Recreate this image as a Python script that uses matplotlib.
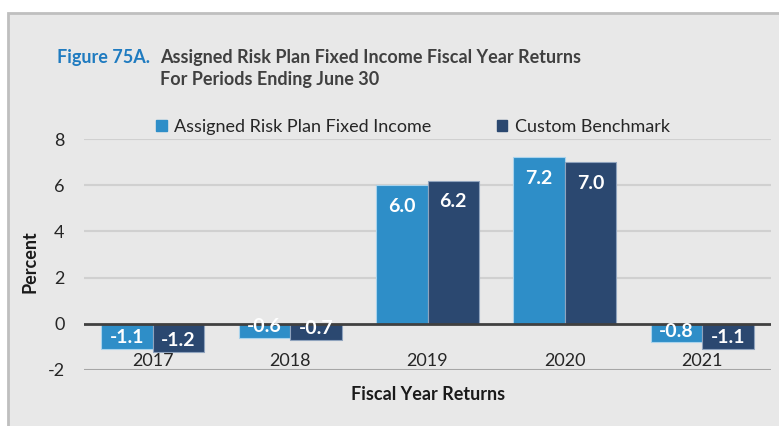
import matplotlib.pyplot as plt
import matplotlib.patches as mpatches
import numpy as np

years = ['2017', '2018', '2019', '2020', '2021']
fixed_income = [-1.1, -0.6, 6.0, 7.2, -0.8]
benchmark = [-1.2, -0.7, 6.2, 7.0, -1.1]
series_names = ['Assigned Risk Plan Fixed Income', 'Custom Benchmark']
y_ticks = [-2, 0, 2, 4, 6, 8]

light = '#2e8ec8'
dark = '#2b4870'
panel = '#e8e8e8'
plt.rcParams['font.family'] = ['Lato', 'DejaVu Sans']

W, H = 779, 426
fig = plt.figure(figsize=(W / 100, H / 100), dpi=100)
fig.patch.set_facecolor('white')

# gray panel with border
fig.patches.append(mpatches.Rectangle((8 / W, -0.1), 1.1, (H - 13) / H + 0.1,
                                      transform=fig.transFigure, facecolor=panel,
                                      edgecolor='#bfbfbf', linewidth=2, zorder=-10))

ax = fig.add_axes([84 / W, (H - 370) / H, (771 - 84) / W, (370 - 139) / H])
ax.set_facecolor('none')

x = np.arange(len(years))
w = 0.375
b1 = ax.bar(x - w / 2, fixed_income, w, color=light, edgecolor='#a9d3ec', linewidth=0.8, zorder=3)
b2 = ax.bar(x + w / 2, benchmark, w, color=dark, edgecolor='#8fa3bd', linewidth=0.8, zorder=3)

for bars, vals in ((b1, fixed_income), (b2, benchmark)):
    for bar, v in zip(bars, vals):
        cx = bar.get_x() + bar.get_width() / 2
        if v >= 0:
            ax.annotate(f'{v:.1f}', (cx, v), xytext=(0, -9), textcoords='offset points',
                        ha='center', va='top', color='white', fontsize=14, fontweight='bold', zorder=5)
        else:
            ax.annotate(f'{v:.1f}', (cx, v), xytext=(0, 2), textcoords='offset points',
                        ha='center', va='bottom', color='white', fontsize=14, fontweight='bold', zorder=5)

ax.set_xlim(-0.5, len(years) - 0.5)
ax.set_ylim(-2, 8)
ax.set_yticks(y_ticks)
ax.set_yticklabels([str(t) for t in y_ticks], fontsize=13, color='#262626')
ax.tick_params(axis='y', length=0, pad=14)
ax.set_xticks([])
for t in y_ticks:
    if t == 0:
        ax.axhline(0, color='#404040', linewidth=2, zorder=4)
    elif t == -2:
        ax.axhline(t, color='#a6a6a6', linewidth=1.5, zorder=1)
    else:
        ax.axhline(t, color='#d0d0d0', linewidth=1.5, zorder=1)
for s in ax.spines.values():
    s.set_visible(False)

for xi, yr in zip(x, years):
    ax.text(xi, -1.63, yr, ha='center', va='center', fontsize=13, color='#262626', zorder=6)

fig.text(30 / W, 1 - 262 / H, 'Percent', rotation=90, ha='center', va='center',
         fontsize=13, fontweight='bold', color='#1a1a1a')
fig.text(428 / W, 1 - 394 / H, 'Fiscal Year Returns', ha='center', va='center',
         fontsize=13, fontweight='bold', color='#1a1a1a')

fig.text(57 / W, 1 - 57 / H, 'Figure 75A.', ha='left', va='center',
         fontsize=13, fontweight='bold', color='#1f7bc0')
fig.text(160 / W, 1 - 57 / H, 'Assigned Risk Plan Fixed Income Fiscal Year Returns',
         ha='left', va='center', fontsize=13, fontweight='bold', color='#404040')
fig.text(160 / W, 1 - 80 / H, 'For Periods Ending June 30',
         ha='left', va='center', fontsize=13, fontweight='bold', color='#404040')

handles = [mpatches.Patch(color=light), mpatches.Patch(color=dark)]
fig.legend(handles, series_names, ncol=2, frameon=False, loc='center',
           bbox_to_anchor=(413 / W, 1 - 127 / H), fontsize=13, handlelength=0.6,
           handleheight=0.6, handletextpad=0.4, columnspacing=3.6, labelcolor='#262626')

fig.savefig('out.png', dpi=100, facecolor=fig.get_facecolor())
